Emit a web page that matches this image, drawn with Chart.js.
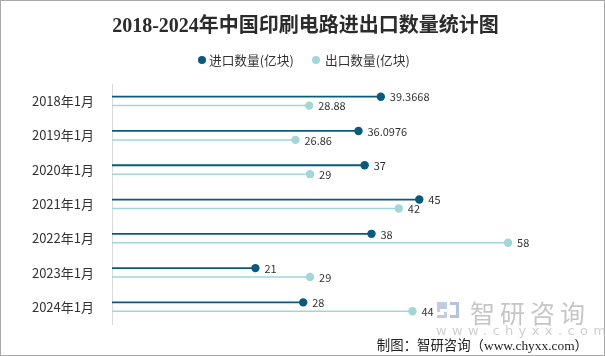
<!DOCTYPE html>
<html><head><meta charset="utf-8">
<script src="https://cdn.jsdelivr.net/npm/chart.js@4/dist/chart.umd.min.js"></script>
<style>
html,body{margin:0;padding:0;background:#fff;}
#wrap{position:relative;width:605px;height:356px;box-sizing:border-box;border:1px solid #a8a8a8;overflow:hidden;font-family:"Noto Sans CJK SC",sans-serif;}
canvas{position:absolute;left:0;top:0;}
.t{position:absolute;white-space:nowrap;}
#title{left:2px;width:605px;top:10px;text-align:center;font:bold 20px/28px "Liberation Serif","Noto Sans CJK SC",serif;color:#2b2b2b;}
.lg{position:absolute;top:50px;font-size:12.7px;color:#333;line-height:18px;}
.dot{position:absolute;top:5px;width:8px;height:8px;border-radius:50%;}
.lg span.txt{position:absolute;left:0;top:0;}
#foot{right:16px;top:333px;font:13.4px "Liberation Serif","Noto Sans CJK SC",serif;color:#222;}
#wm1{left:469px;top:293px;font-size:25px;letter-spacing:5px;color:#c6c6c6;}
#wm2{left:435px;top:322px;font-size:13px;letter-spacing:5.4px;color:#cfcfcf;font-family:"DejaVu Sans",sans-serif;}
#logo{position:absolute;left:435px;top:299px;width:24px;height:20px;}
</style></head>
<body><div id="wrap">
<canvas id="c" width="605" height="356"></canvas>
<div class="t" id="title">2018-2024年中国印刷电路进出口数量统计图</div>
<span class="dot" style="left:197px;top:55px;background:#0a5a7c"></span>
<div class="lg" style="left:208px">进口数量(亿块)</div>
<span class="dot" style="left:311px;top:55px;background:#a3d6d6"></span>
<div class="lg" style="left:324px">出口数量(亿块)</div>
<svg id="logo" viewBox="0 0 24 20"><path d="M1 2h10v7H4v3h7v6H1v-3h7v-3H1z" fill="#c0cde0"/><path d="M14 2h9v16h-9v-3h6V5h-6z" fill="#b5c4dc"/></svg>
<div class="t" id="wm1">智研咨询</div>
<div class="t" id="wm2">www.chyxx.com</div>
<div class="t" id="foot">制图：智研咨询（www.chyxx.com）</div>
</div>
<script>
const categories = ["2018年1月","2019年1月","2020年1月","2021年1月","2022年1月","2023年1月","2024年1月"];
const importValues = [39.3668, 36.0976, 37, 45, 38, 21, 28];
const exportValues = [28.88, 26.86, 29, 42, 58, 29, 44];
const seriesNames = ["进口数量(亿块)", "出口数量(亿块)"];
const darkColor = "#0a5a7c";
const lightColor = "#a3d6d6";

const lollipop = {
  id: "lollipop",
  afterDatasetsDraw(chart) {
    const ctx = chart.ctx;
    chart.data.datasets.forEach((ds, i) => {
      const meta = chart.getDatasetMeta(i);
      meta.data.forEach((el, j) => {
        ctx.save();
        ctx.beginPath();
        ctx.arc(el.x, el.y, 4.2, 0, Math.PI * 2);
        ctx.fillStyle = ds.dotColor;
        ctx.fill();
        ctx.font = '11px "Noto Sans CJK SC", sans-serif';
        ctx.fillStyle = "#333";
        ctx.textBaseline = "middle";
        ctx.textAlign = "left";
        ctx.fillText(String(ds.data[j]), el.x + 9, el.y + 0.5);
        ctx.restore();
      });
    });
  }
};

new Chart(document.getElementById("c"), {
  type: "bar",
  data: {
    labels: categories,
    datasets: [
      { label: seriesNames[0], data: importValues, backgroundColor: darkColor, dotColor: darkColor,
        barPercentage: 0.2, categoryPercentage: 0.52 },
      { label: seriesNames[1], data: exportValues, backgroundColor: lightColor, dotColor: lightColor,
        barPercentage: 0.17, categoryPercentage: 0.52 }
    ]
  },
  options: {
    indexAxis: "y",
    responsive: false,
    animation: false,
    events: [],
    layout: { padding: { top: 83, bottom: 33, right: 16, left: 0 } },
    plugins: { legend: { display: false }, title: { display: false }, tooltip: { enabled: false } },
    scales: {
      x: { display: false, min: 0, max: 70 },
      y: {
        afterFit(scale) { scale.width = 111; },
        grid: { display: false },
        border: { display: true, color: "#d9d9d9", width: 1 },
        ticks: { color: "#333", padding: 10, font: { size: 13, family: '"Noto Sans CJK SC", sans-serif' } }
      }
    }
  },
  plugins: [lollipop]
});
</script>
</body></html>
